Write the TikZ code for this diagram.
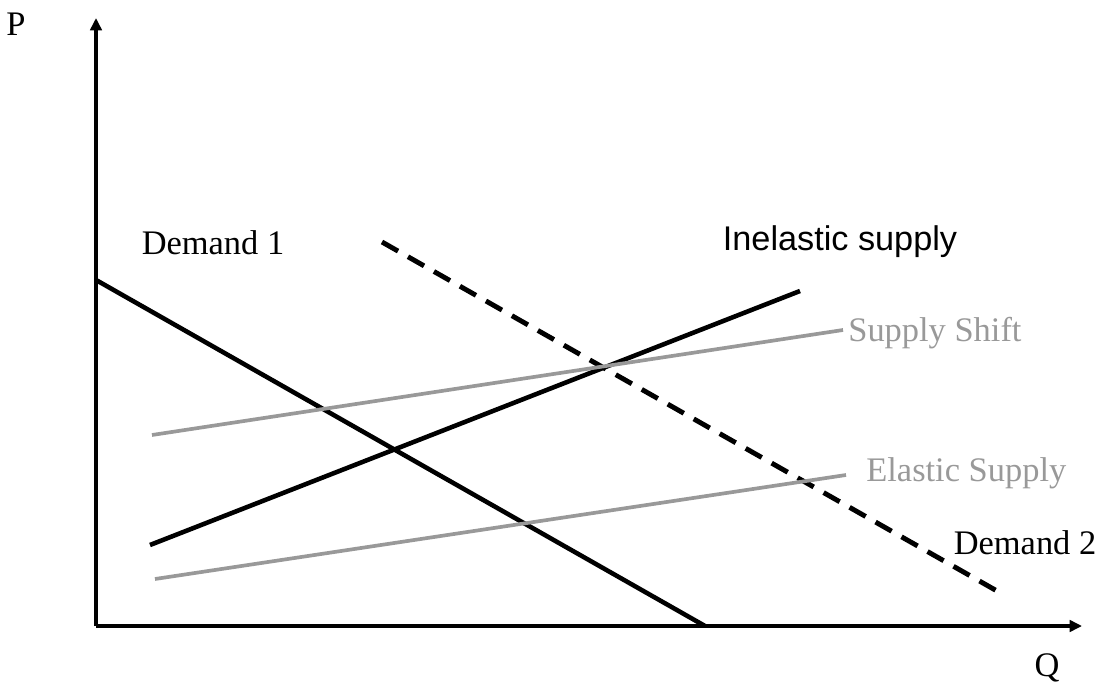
\documentclass[tikz,border=0pt]{standalone}
\usepackage{fontspec}
\setmainfont{Liberation Serif}
\newfontfamily\arialfont{Liberation Sans}
\usetikzlibrary{arrows.meta}
\definecolor{lgray}{HTML}{999999}
\begin{document}
\begin{tikzpicture}[x=0.02cm,y=-0.02cm,
  axis/.style={line width=1.8pt,-{Triangle[length=7pt,width=6.5pt]}},
  curve/.style={line width=2.6pt},
  graycurve/.style={line width=2.1pt,lgray},
  dashcurve/.style={line width=2.8pt,dash pattern=on 10.5pt off 6.5pt},
  lbl/.style={font=\fontsize{19.6}{22}\selectfont,inner sep=0pt},
  glbl/.style={lbl,text=lgray,anchor=west}]
\useasboundingbox (0,0) rectangle (1097,688);
\coordinate (O) at (96,626);
\coordinate (Ytop) at (96,18);
\coordinate (Xend) at (1082,626);
\draw[axis] (O) -- (Ytop);
\draw[axis] (O) -- (Xend);
\node[lbl] (P) at (16,24) {P};
\node[lbl] (Q) at (1047,668) {Q};
% curves
\coordinate (d1a) at (96,280);
\coordinate (d1b) at (705,626);
\draw[curve] (d1a) -- (d1b);
\coordinate (d2a) at (382,242);
\coordinate (d2b) at (997,591);
\draw[dashcurve] (d2a) -- (d2b);
\coordinate (isa) at (150,545);
\coordinate (isb) at (800,291);
\draw[curve] (isa) -- (isb);
\coordinate (ssa) at (152,435);
\coordinate (ssb) at (843,330);
\draw[graycurve] (ssa) -- (ssb);
\coordinate (esa) at (155,579);
\coordinate (esb) at (846,475);
\draw[graycurve] (esa) -- (esb);
% labels
\node[lbl] (dem1) at (213,243) {Demand 1};
\node[lbl,font=\arialfont\fontsize{19.5}{22}\selectfont] (inel) at (840,242) {Inelastic supply};
\node[glbl] (sshift) at (848,333) {Supply Shift};
\node[glbl] (esup) at (866,473) {Elastic Supply};
\node[lbl] (dem2) at (1025,543) {Demand 2};
\end{tikzpicture}
\end{document}
